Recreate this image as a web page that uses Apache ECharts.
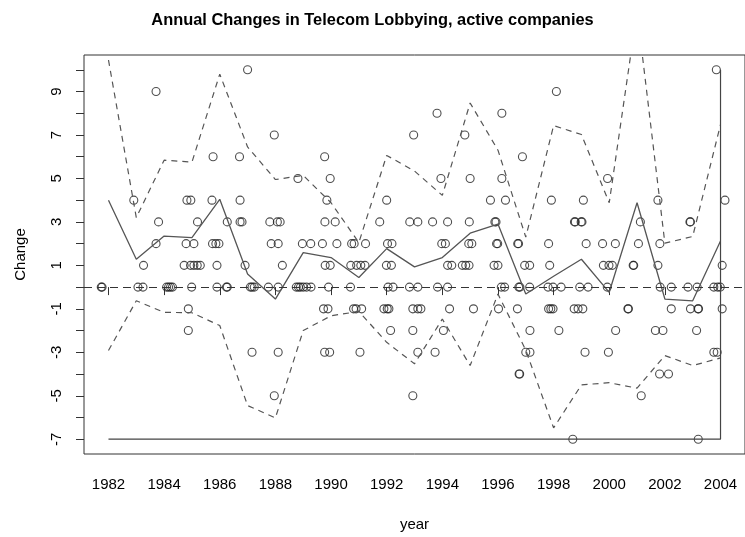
<!DOCTYPE html>
<html>
<head>
<meta charset="utf-8">
<script src="https://cdn.jsdelivr.net/npm/echarts@6/dist/echarts.min.js"></script>
<style>
  html, body { margin: 0; padding: 0; background: #fff; }
  #chart { width: 745px; height: 537px; }
</style>
</head>
<body>
<div id="chart"></div>
<script>
// yearly summary lines
const years = [1982, 1983, 1984, 1985, 1986, 1987, 1988, 1989, 1990, 1991, 1992, 1993,
  1994, 1995, 1996, 1997, 1998, 1999, 2000, 2001, 2002, 2003, 2004];
const meanChange = [4.0, 1.28, 2.35, 2.28, 4.04, 0.6, -0.55, 1.59, 1.36, 0.44, 1.77, 0.93,
  1.36, 2.48, 2.9, -0.32, 0.5, 1.28, -0.24, 3.88, -0.55, -0.63, 2.12];
const upperBand = [10.45, 3.2, 5.84, 5.75, 9.8, 6.45, 4.95, 5.14, 3.88, 2.05, 6.06, 5.34,
  4.22, 8.47, 6.3, 2.3, 7.43, 7.02, 3.88, 12.7, 2.02, 2.33, 7.48];
const lowerBand = [-2.92, -0.63, -1.16, -1.18, -1.77, -5.45, -6.02, -2.0, -1.32, -1.12, -2.54, -3.53,
  -1.47, -3.61, -0.32, -2.9, -6.48, -4.5, -4.4, -4.65, -3.15, -3.61, -3.26];

// odd line along the bottom and right
const edgeX = [1982, 2004, 2004];
const edgeY = [-7, -7, 10];

// jittered years of the company points, one array per change value
const at10 = [1987.0, 2003.85];
const at9 = [1983.71, 1998.1];
const at8 = [1993.81, 1996.14];
const at7 = [1987.96, 1992.97, 1994.81];
const at6 = [1985.76, 1986.71, 1989.77, 1996.88];
const at5 = [1988.81, 1989.97, 1993.95, 1995.0, 1996.14, 1999.94];
const at4 = [1982.91, 1984.82, 1984.96, 1985.72, 1986.73, 1989.85, 1992.0, 1995.73, 1996.27,
  1997.92, 1999.07, 2001.75, 2004.16];
const at3 = [1983.8, 1985.2, 1986.27, 1986.73, 1986.8, 1987.8, 1988.07, 1988.17, 1989.78, 1990.15,
  1991.75, 1992.83, 1993.12, 1993.65, 1994.19, 1994.97, 1995.89, 1995.93, 1998.75, 1998.78,
  1998.99, 1999.02, 2001.12, 2002.9, 2002.92];
const at2 = [1983.71, 1984.79, 1985.07, 1985.74, 1985.86, 1985.97, 1987.85, 1988.1, 1988.97, 1989.27,
  1989.69, 1990.21, 1990.74, 1990.83, 1991.24, 1992.03, 1992.19, 1993.98, 1994.11, 1994.95,
  1995.06, 1995.95, 1995.99, 1996.71, 1996.74, 1997.82, 1999.17, 1999.76, 2000.22, 2001.05, 2001.82];
const at1 = [1983.26, 1984.72, 1984.95, 1985.07, 1985.19, 1985.3, 1985.9, 1986.91, 1988.25, 1989.79,
  1989.97, 1990.71, 1990.92, 1991.07, 1991.22, 1991.99, 1992.17, 1994.19, 1994.34, 1994.72,
  1994.84, 1994.96, 1995.86, 1996.0, 1996.96, 1997.14, 1997.86, 1999.79, 1999.99, 2000.11,
  2000.86, 2000.88, 2001.75, 2004.06];
const at0 = [1981.74, 1981.77, 1983.06, 1983.24, 1984.09, 1984.16, 1984.23, 1984.3, 1984.99, 1985.9,
  1986.24, 1986.27, 1987.1, 1987.16, 1987.24, 1987.75, 1988.1, 1988.75, 1988.83, 1988.9, 1989.0,
  1989.12, 1989.28, 1989.91, 1990.7, 1992.05, 1992.23, 1992.82, 1993.12, 1993.83, 1994.19,
  1996.12, 1996.24, 1996.75, 1996.79, 1997.14, 1997.8, 1997.98, 1998.27, 1998.94, 1999.24,
  1999.93, 2001.83, 2002.23, 2002.83, 2003.16, 2003.76, 2003.9, 2003.99];
const atM1 = [1984.87, 1989.73, 1989.89, 1990.81, 1990.9, 1991.1, 1991.9, 1992.02, 1992.08, 1992.94,
  1993.12, 1993.23, 1994.26, 1995.12, 1996.02, 1996.7, 1997.82, 1997.9, 1997.98, 1998.74,
  1998.88, 1999.05, 2000.67, 2000.69, 2002.23, 2002.92, 2003.19, 2003.21, 2004.06];
const atM2 = [1984.87, 1992.14, 1992.94, 1994.04, 1997.15, 1998.19, 2000.23, 2001.66, 2001.93, 2003.14];
const atM3 = [1987.16, 1988.1, 1989.77, 1989.95, 1991.04, 1993.12, 1993.74, 1997.0, 1997.15,
  1999.13, 1999.97, 2003.76, 2003.88];
const atM4 = [1996.76, 1996.78, 2001.81, 2002.13];
const atM5 = [1987.96, 1992.94, 2001.15];
const atM7 = [1998.69, 2003.2];

const pointLevels = [
  [10, at10], [9, at9], [8, at8], [7, at7], [6, at6], [5, at5], [4, at4], [3, at3],
  [2, at2], [1, at1], [0, at0], [-1, atM1], [-2, atM2], [-3, atM3], [-4, atM4],
  [-5, atM5], [-7, atM7]
];

// axis ticks
const xTicks = [1982, 1984, 1986, 1988, 1990, 1992, 1994, 1996, 1998, 2000, 2002, 2004];
const yTicks = [-7, -6, -5, -4, -3, -2, -1, 0, 1, 2, 3, 4, 5, 6, 7, 8, 9, 10];
const yLabels = [-7, -5, -3, -1, 1, 3, 5, 7, 9];

const points = [];
pointLevels.forEach(([v, xs]) => xs.forEach((x) => points.push([x, v])));

const zip = (xs, ys) => xs.map((x, i) => [x, ys[i]]);

const chart = echarts.init(document.getElementById("chart"));
const font = "Liberation Sans, Arial, sans-serif";
const ink = "#333";

const option = {
  animation: false,
  backgroundColor: "#fff",
  title: {
    text: "Annual Changes in Telecom Lobbying, active companies",
    left: "center",
    top: 7,
    textStyle: { fontFamily: font, fontSize: 16.4, fontWeight: "bold", color: "#000" },
  },
  grid: {
    left: 84,
    top: 55,
    width: 668,
    height: 399,
    show: true,
    borderColor: ink,
    borderWidth: 1,
    backgroundColor: "transparent",
  },
  xAxis: {
    type: "value",
    min: 1981.12,
    max: 2004.88,
    name: "year",
    nameLocation: "middle",
    nameGap: 63,
    nameTextStyle: { fontFamily: font, fontSize: 15, color: "#000" },
    splitLine: { show: false },
    axisLine: { show: false },
    axisTick: { show: true, length: 8, customValues: xTicks, lineStyle: { color: ink } },
    axisLabel: {
      customValues: xTicks,
      formatter: (v) => String(v),
      margin: 23,
      fontFamily: font,
      fontSize: 15,
      color: "#000",
    },
  },
  yAxis: {
    type: "value",
    min: -7.68,
    max: 10.68,
    name: "Change",
    nameLocation: "middle",
    nameGap: 56,
    nameTextStyle: { fontFamily: font, fontSize: 15, color: "#000" },
    splitLine: { show: false },
    axisLine: { show: false },
    axisTick: { show: true, length: 8, customValues: yTicks, lineStyle: { color: ink } },
    axisLabel: {
      customValues: yLabels,
      formatter: (v) => String(v),
      rotate: 90,
      margin: 20,
      fontFamily: font,
      fontSize: 15,
      color: "#000",
    },
  },
  series: [
    {
      type: "scatter",
      data: points,
      symbol: "circle",
      symbolSize: 8,
      itemStyle: { color: "rgba(0,0,0,0)", borderColor: "#222", borderWidth: 1.1 },
      markLine: {
        silent: true,
        symbol: "none",
        label: { show: false },
        lineStyle: { color: ink, type: [8, 5], width: 1 },
        data: [{ yAxis: 0 }],
      },
    },
    {
      type: "line",
      data: zip(years, meanChange),
      showSymbol: false,
      lineStyle: { color: "#555", width: 1.3 },
    },
    {
      type: "line",
      data: zip(years, upperBand),
      showSymbol: false,
      clip: true,
      lineStyle: { color: "#555", width: 1.2, type: [6, 5] },
    },
    {
      type: "line",
      data: zip(years, lowerBand),
      showSymbol: false,
      lineStyle: { color: "#555", width: 1.2, type: [6, 5] },
    },
    {
      type: "line",
      data: zip(edgeX, edgeY),
      showSymbol: false,
      lineStyle: { color: "#444", width: 1.2 },
    },
  ],
};

chart.setOption(option);
</script>
</body>
</html>
